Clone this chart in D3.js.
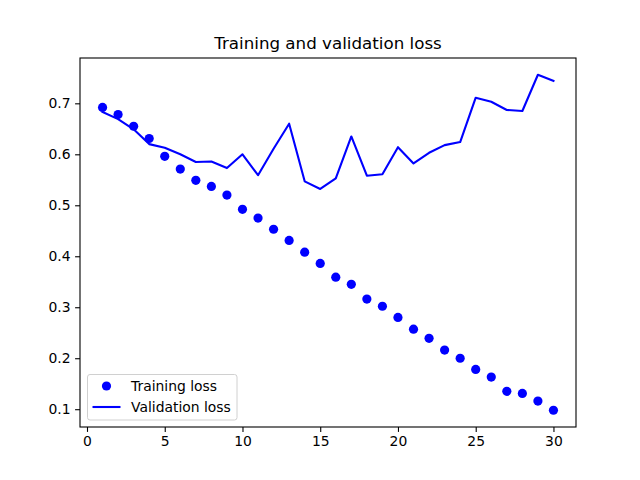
<!DOCTYPE html>
<html>
<head>
<meta charset="utf-8">
<script src="https://d3js.org/d3.v7.min.js"></script>
<style>
body { margin: 0; background: #fff; }
text { font-family: "DejaVu Sans", sans-serif; fill: #000; }
</style>
</head>
<body>
<script>
var epochs = d3.range(1, 31);
var trainLoss = [0.692, 0.678, 0.655, 0.631, 0.596, 0.571, 0.549, 0.537, 0.520, 0.492,
                 0.475, 0.453, 0.431, 0.408, 0.386, 0.359, 0.345, 0.316, 0.302, 0.280,
                 0.257, 0.239, 0.216, 0.200, 0.178, 0.163, 0.135, 0.131, 0.116, 0.098];
var valLoss = [0.683, 0.669, 0.649, 0.620, 0.613, 0.600, 0.585, 0.586, 0.573, 0.600,
               0.559, 0.611, 0.660, 0.547, 0.532, 0.553, 0.635, 0.558, 0.561, 0.614,
               0.582, 0.603, 0.618, 0.624, 0.711, 0.703, 0.687, 0.685, 0.756, 0.744];
var xTicks = [0, 5, 10, 15, 20, 25, 30];
var yTicks = [0.1, 0.2, 0.3, 0.4, 0.5, 0.6, 0.7];
var legendLabels = ["Training loss", "Validation loss"];

var width = 640, height = 480;
var plotLeft = 80, plotRight = 576, plotTop = 58, plotBottom = 427;

var svg = d3.select("body").append("svg")
	.attr("width", width)
	.attr("height", height);

// matplotlib style 5% margins
var yMin = d3.min(trainLoss.concat(valLoss)), yMax = d3.max(trainLoss.concat(valLoss));
var yPad = (yMax - yMin) * 0.05;
var x = d3.scaleLinear().domain([1 - 1.45, 30 + 1.45]).range([plotLeft, plotRight]);
var y = d3.scaleLinear().domain([yMin - yPad, yMax + yPad]).range([plotBottom, plotTop]);

// axes
var xAxis = svg.append("g")
	.attr("transform", "translate(0," + plotBottom + ")")
	.call(d3.axisBottom(x).tickValues(xTicks).tickSize(4.9).tickPadding(4.5).tickFormat(d3.format("d")));
var yAxis = svg.append("g")
	.attr("transform", "translate(" + plotLeft + ",0)")
	.call(d3.axisLeft(y).tickValues(yTicks).tickSize(4.9).tickPadding(4.5).tickFormat(d3.format(".1f")));
[xAxis, yAxis].forEach(function(a) {
	a.select(".domain").remove();
	a.selectAll("line").attr("stroke", "#000").attr("stroke-width", 1.1);
	a.selectAll("text").attr("font-size", "13.9px").attr("font-family", "DejaVu Sans");
});

// validation line
var line = d3.line()
	.x(function(d, i) { return x(epochs[i]); })
	.y(function(d) { return y(d); });
svg.append("path")
	.datum(valLoss)
	.attr("d", line)
	.attr("fill", "none")
	.attr("stroke", "#0000ff")
	.attr("stroke-width", 2.1)
	.attr("stroke-linejoin", "round")
	.attr("stroke-linecap", "square");

// training dots
svg.selectAll("circle.train")
	.data(trainLoss)
	.enter()
	.append("circle")
	.attr("class", "train")
	.attr("cx", function(d, i) { return x(epochs[i]); })
	.attr("cy", function(d) { return y(d); })
	.attr("r", 4.6)
	.attr("fill", "#0000ff");

// frame
svg.append("rect")
	.attr("x", plotLeft).attr("y", plotTop)
	.attr("width", plotRight - plotLeft).attr("height", plotBottom - plotTop)
	.attr("fill", "none").attr("stroke", "#000").attr("stroke-width", 1.1);

// title
svg.append("text")
	.attr("x", (plotLeft + plotRight) / 2)
	.attr("y", 49)
	.attr("text-anchor", "middle")
	.attr("font-size", "16.7px")
	.text("Training and validation loss");

// legend
var legend = svg.append("g");
legend.append("rect")
	.attr("x", 87.5).attr("y", 374.5)
	.attr("width", 149.5).attr("height", 45.5)
	.attr("rx", 2.5)
	.attr("fill", "#fff").attr("fill-opacity", 0.8)
	.attr("stroke", "#d0d0d0").attr("stroke-width", 1);
legend.append("circle")
	.attr("cx", 106.5).attr("cy", 386).attr("r", 4.6).attr("fill", "#0000ff");
legend.append("line")
	.attr("x1", 92.5).attr("x2", 120.5).attr("y1", 407).attr("y2", 407)
	.attr("stroke", "#0000ff").attr("stroke-width", 2.1);
legend.selectAll("text.lab")
	.data(legendLabels)
	.enter()
	.append("text")
	.attr("class", "lab")
	.attr("x", 131)
	.attr("y", function(d, i) { return 391 + i * 21; })
	.attr("font-size", "13.9px")
	.text(function(d) { return d; });
</script>
</body>
</html>
